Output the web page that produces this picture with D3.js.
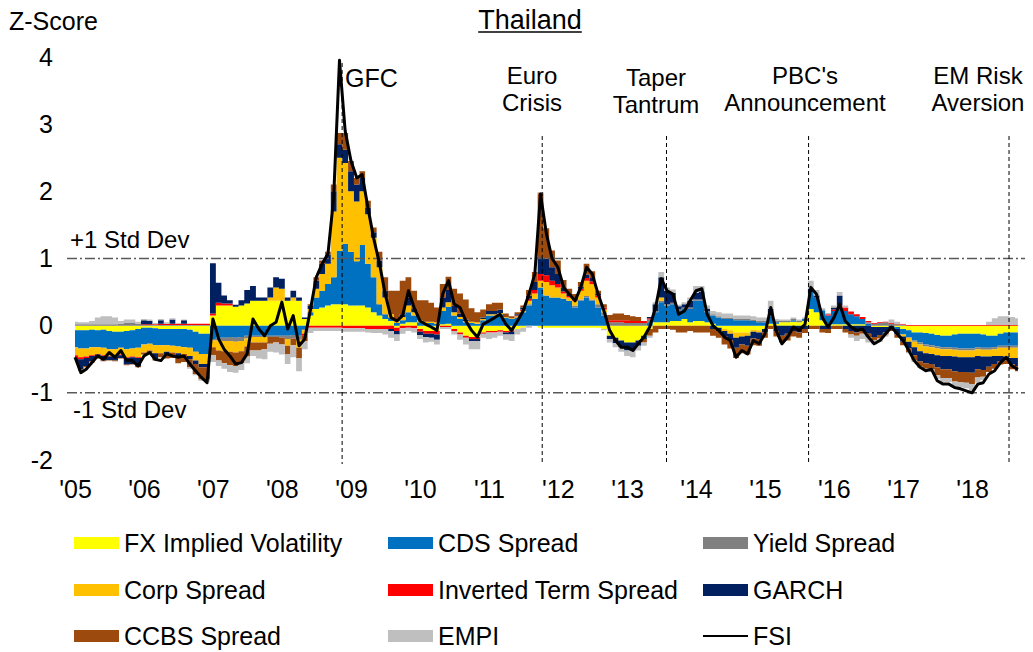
<!DOCTYPE html>
<html lang="en">
<head>
<meta charset="UTF-8">
<title>Thailand FSI</title>
<script src="https://d3js.org/d3.v7.min.js"></script>
<style>
  body { margin: 0; background: #fff; }
  svg text { font-family: "Liberation Sans", Arial, sans-serif; fill: #000; }
</style>
</head>
<body>
<svg width="1033" height="652"></svg>
<script>
// monthly data, Jan 2005 .. Sep 2018
var startYear = 2005, nMonths = 165;

var fx = [
  -.07,-.07,-.07,-.06,-.07,-.06,-.08,-.09,-.09,-.08,-.07,-.05,
  -.03,-.03,-.04,-.05,-.05,-.05,-.05,-.05,-.06,-.09,-.12,-.12,
  .15,.3,.3,.3,.28,.3,.33,.37,.37,.37,.37,.37,
  .37,.37,.37,.37,.1,.15,.25,.27,.3,.32,.32,.32,
  .3,.3,.3,.27,.2,.15,.1,.07,-.03,.03,.05,.05,
  -.05,-.08,-.08,-.08,.02,.03,-.05,-.1,-.15,-.17,-.17,-.1,
  -.08,-.08,-.07,-.08,-.07,-.05,-.03,0,0,-.03,-.03,-.03,
  -.03,-.03,-.03,-.03,-.03,-.03,-.03,-.03,-.05,-.15,-.18,-.22,
  -.25,-.25,-.22,-.15,-.05,.05,.05,.05,.07,.07,.1,.05,
  .07,.07,.05,.03,-.03,-.05,-.07,-.1,-.1,-.1,-.06,-.07,
  -.05,.03,.03,.05,.05,.06,.05,.07,.25,.2,.08,.03,
  .02,.02,.02,.02,.02,.02,0,-.02,-.02,-.02,0,-.02,
  -.05,-.07,-.1,-.1,-.11,-.12,-.14,-.15,-.15,-.13,-.12,-.12,
  -.12,-.12,-.13,-.15,-.15,-.12,-.1,-.1,-.1
];
var cds = [
  -.25,-.27,-.27,-.26,-.25,-.27,-.27,-.26,-.24,-.27,-.27,-.28,
  -.25,-.24,-.25,-.24,-.24,-.25,-.26,-.27,-.27,-.3,-.3,-.3,
  -.2,-.18,-.18,-.17,-.18,-.17,-.15,-.15,-.15,-.15,-.15,-.15,
  -.15,-.15,-.14,-.15,-.05,.05,.17,.25,.32,.4,.79,.9,
  .8,.66,.9,.65,.52,.17,.07,.05,.04,.05,.15,.1,
  .05,.04,.04,.03,.2,.25,.15,.1,.05,.04,.03,.08,
  .15,.15,.17,.12,.1,.12,.2,.3,.4,.57,.45,.42,
  .42,.4,.37,.27,.37,.42,.37,.27,.15,0,0,0,
  0,0,0,0,.05,.15,.3,.25,.25,.15,.15,.2,
  .3,.3,.15,.12,.12,.1,.1,.08,.08,.08,.07,.05,
  .05,.1,.02,0,0,.02,0,.03,.25,.22,.15,.12,
  .2,.25,.2,.15,.12,.08,.03,0,0,0,0,-.03,
  -.08,-.1,-.12,-.15,-.17,-.17,-.17,-.17,-.17,-.2,-.22,-.22,
  -.22,-.2,-.2,-.18,-.17,-.18,-.2,-.2,-.2
];
var yieldSpread = [
  .02,.02,.02,.02,.02,.02,.02,.02,.03,.04,.04,.03,
  .01,.01,.01,.01,.01,.01,.01,.01,.01,.01,.01,.01,
  -.02,-.04,-.05,-.06,-.06,-.06,-.04,-.02,-.02,-.02,-.02,-.02,
  -.03,-.05,-.05,-.06,-.02,0,0,0,0,0,0,0,
  0,0,0,0,0,0,0,0,0,0,0,0,
  0,0,0,0,0,0,0,0,0,0,0,0,
  0,0,0,0,0,0,0,.02,0,0,0,0,
  0,0,0,.03,.02,.02,.02,.05,.05,.05,.05,.05,
  .04,.04,.04,.04,.04,.02,.02,.02,.02,.02,.02,.02,
  .02,.02,.02,.02,.02,.02,.02,.02,.02,.02,.02,.02,
  .02,.02,.02,.02,.02,.02,.02,0,0,0,0,0,
  0,0,0,0,0,0,.02,.03,.04,.05,.03,.02,
  .01,-.01,-.02,-.03,-.03,-.03,-.03,-.03,-.03,-.03,-.03,-.03,
  -.03,-.03,-.03,-.03,-.03,-.03,-.03,-.03,-.03
];
var corp = [
  -.12,-.13,-.12,-.12,-.1,-.11,-.1,-.1,-.1,-.12,-.12,-.14,
  -.12,-.1,-.12,-.12,-.1,-.1,-.1,-.1,-.12,-.13,-.15,-.15,
  -.1,-.15,-.15,-.16,-.16,-.15,-.12,-.08,-.08,-.08,.05,.2,
  .18,-.1,.05,-.12,-.05,.05,.13,.25,.3,.98,1.39,1.2,
  .9,.89,.8,.74,.59,.55,.25,.05,.03,.05,.1,.05,
  .03,.02,.02,.02,.05,.07,.05,.03,.02,.02,.02,.02,
  .02,.02,.02,.01,.01,.02,.02,.05,.08,.1,.2,.18,
  .15,.08,.05,.07,.13,.23,.23,.1,.04,0,0,0,
  0,0,0,0,0,0,.05,0,0,0,0,0,
  0,0,0,0,0,-.03,-.05,-.08,-.06,-.05,-.03,-.03,
  0,0,0,0,0,0,0,0,0,0,0,0,
  0,0,0,0,0,0,0,0,0,0,0,0,
  -.03,-.06,-.08,-.1,-.1,-.1,-.1,-.1,-.1,-.1,-.1,-.1,
  -.1,-.1,-.1,-.1,-.1,-.12,-.13,-.15,-.15
];
var inverted = [
  -.04,-.03,-.02,-.01,-.01,-.01,-.01,-.01,-.01,-.01,-.01,-.01,
  .01,.01,.01,.02,.02,.02,.02,.02,.02,.02,.02,.02,
  .03,.04,.03,.03,0,0,0,0,0,0,0,0,
  0,0,0,0,-.03,-.03,-.03,-.03,-.03,-.03,-.03,-.04,
  -.04,-.04,-.04,-.05,-.05,-.05,-.05,-.05,-.05,-.04,-.03,-.04,
  -.04,-.04,-.04,-.05,-.02,-.02,-.03,-.03,-.03,-.03,-.03,-.02,
  -.02,-.02,-.02,-.02,-.02,.01,.02,.03,.05,.1,.1,.07,
  .05,.03,.02,.03,.03,.04,.04,.03,.03,.03,.03,.03,
  .04,.03,.03,.03,.02,0,0,0,0,0,0,0,
  0,0,0,0,0,0,0,0,0,0,0,0,
  0,0,0,0,0,0,0,0,0,0,0,.02,
  .02,.03,.05,.04,.03,.03,.02,.01,.01,.01,.01,.01,
  .01,.01,.01,.01,.01,.01,.01,.01,.01,.01,.01,.01,
  .01,.01,.01,.01,.01,.01,.01,.01,.01
];
var garch = [
  -.05,-.15,-.12,-.08,-.05,-.07,-.05,-.06,-.04,-.1,-.1,-.12,
  .06,.05,-.08,.05,-.05,.06,-.05,.05,-.05,-.05,-.05,-.05,
  .75,.3,.12,.05,.03,.08,.2,.22,.05,.05,.15,.15,
  .15,.05,.1,.05,.02,.05,.12,.15,.14,.3,.2,.2,
  .3,.25,.2,.1,.08,.1,.1,-.03,-.05,.04,.12,.05,
  -.05,-.05,-.06,-.08,.15,.18,.1,.05,.02,-.03,-.03,.02,
  .05,.05,.05,-.03,-.04,.02,.03,.05,.12,.25,.25,.2,
  .15,.05,.03,.02,.03,.05,.05,.02,0,-.05,-.08,-.1,
  -.12,-.12,-.08,-.05,.02,.1,.3,.2,.15,.05,.05,.1,
  .1,.12,.03,-.05,-.05,-.08,-.1,-.15,-.12,-.15,-.1,-.1,
  -.05,.1,-.08,-.15,-.12,-.08,-.1,-.05,.05,.03,-.05,-.05,
  .03,.15,-.05,-.08,-.1,-.08,-.12,-.15,-.12,-.08,-.05,-.08,
  -.08,-.1,-.12,-.15,-.15,-.15,-.18,-.2,-.2,-.22,-.22,-.22,
  -.23,-.2,-.2,-.15,-.12,-.08,-.06,-.1,-.12
];
var ccbs = [
  -.01,-.02,-.02,-.02,-.01,-.01,-.01,-.01,-.01,-.01,-.01,-.02,
  -.03,-.03,-.03,-.06,-.05,-.08,-.1,-.12,-.12,-.15,-.18,-.18,
  -.12,-.15,-.18,-.2,-.2,-.18,-.15,-.12,-.12,-.1,-.1,-.08,
  -.1,-.12,-.1,-.15,-.08,.02,.05,.05,.04,.1,.17,.25,
  .15,.1,.1,.1,.07,.13,.2,.35,.45,.5,.3,.27,
  .3,.32,.28,.22,.2,.2,.25,.3,.3,.2,.15,.12,
  .1,.12,.1,.05,.03,.03,.03,.08,.15,.95,.45,.25,
  .2,.12,.08,.05,.07,.16,.1,.05,.05,.08,.1,.1,
  .08,.07,.06,-.05,-.1,-.1,-.05,-.05,-.06,-.1,-.1,-.08,
  -.1,-.1,-.1,-.1,-.1,-.12,-.12,-.15,-.13,-.13,-.1,-.1,
  -.08,-.05,-.08,-.1,-.1,-.08,-.08,-.06,-.05,-.05,-.05,-.06,
  -.05,-.05,-.05,-.05,-.05,-.04,-.05,-.05,-.05,-.03,-.03,-.05,
  -.05,-.06,-.08,-.08,-.08,-.08,-.12,-.13,-.13,-.15,-.15,-.16,
  -.17,-.12,-.1,-.08,-.07,-.05,-.05,-.07,-.08
];
var empi = [
  .04,.03,.03,.05,.1,.12,.12,.1,.04,.05,.05,.03,
  .02,.02,.02,.02,.02,.02,.01,.01,-.02,-.02,-.02,-.03,
  -.1,-.08,-.08,-.1,-.1,-.1,-.1,-.08,-.12,-.15,-.12,-.15,
  -.15,-.15,-.18,-.2,-.12,-.08,-.05,-.05,-.05,-.05,-.05,-.05,
  -.05,-.05,-.05,-.05,-.06,-.06,-.08,-.1,-.1,-.08,-.05,-.06,
  -.06,-.08,-.06,-.07,-.03,-.03,-.05,-.08,-.1,-.12,-.12,-.06,
  -.1,-.08,-.06,-.08,-.1,-.08,-.06,-.03,0,.02,0,0,
  0,0,0,0,0,0,0,0,-.02,-.05,-.06,-.07,
  -.08,-.1,-.07,-.05,-.03,.03,.08,.05,.05,.02,.03,.05,
  .1,.08,.05,.05,.06,.06,.06,.05,.05,.05,.05,.05,
  .05,.12,.03,.02,.02,.02,.02,.02,.12,.08,.03,.02,
  .03,.05,.03,-.05,-.08,-.08,-.08,-.06,-.05,-.03,.05,.03,
  .01,-.01,-.02,-.02,-.02,-.02,-.05,-.06,-.06,-.07,-.08,-.08,
  -.1,-.08,-.05,.05,.1,.13,.13,.12,.1
];
var fsi = [
  -.47,-.7,-.65,-.55,-.45,-.5,-.4,-.47,-.37,-.52,-.52,-.6,
  -.45,-.4,-.5,-.52,-.42,-.45,-.47,-.45,-.57,-.67,-.77,-.85,
  .1,-.2,-.35,-.45,-.57,-.55,-.42,.1,-.05,-.15,0,.05,
  .35,-.05,.15,-.3,-.2,.25,.72,.92,1.07,1.9,3.95,2.9,
  2.45,2.2,2.25,1.75,1.3,.92,.47,.12,.07,.15,.52,.27,
  .07,.02,-.02,-.07,.47,.67,.32,.27,.07,-.07,-.17,.02,
  .07,.12,.17,.02,-.07,.07,.22,.47,.77,1.96,1.37,1.0,
  .87,.57,.47,.37,.57,.87,.77,.47,.22,-.07,-.22,-.32,
  -.32,-.37,-.27,-.17,-.02,.27,.7,.52,.47,.17,.22,.37,
  .52,.55,.17,0,-.07,-.17,-.22,-.47,-.37,-.42,-.22,-.27,
  -.12,.27,-.07,-.27,-.17,-.02,-.07,.02,.57,.47,.12,-.02,
  .12,.32,.07,-.02,-.07,-.05,-.17,-.27,-.22,-.12,-.02,-.12,
  -.22,-.37,-.52,-.62,-.67,-.65,-.82,-.87,-.87,-.92,-.94,-.97,
  -1.0,-.87,-.85,-.72,-.67,-.55,-.47,-.6,-.65
];

var seriesKeys = ["fx", "cds", "yieldSpread", "corp", "inverted", "garch", "ccbs", "empi"];
var seriesNames = ["FX Implied Volatility", "CDS Spread", "Yield Spread", "Corp Spread",
                   "Inverted Term Spread", "GARCH", "CCBS Spread", "EMPI"];
var seriesColors = ["#ffff00", "#0070c0", "#808080", "#ffc000", "#ff0000", "#002060", "#9c4a0e", "#bfbfbf"];

var yTicks = [-2, -1, 0, 1, 2, 3, 4];
var eventDates = ["2008-11-15", "2011-10-10", "2013-07-29", "2015-08-20", "2018-07-16"];
var eventLabels = [["GFC"], ["Euro", "Crisis"], ["Taper", "Tantrum"], ["PBC's", "Announcement"], ["EM Risk", "Aversion"]];
var bandValues = [1, -1];
var bandLabels = ["+1 Std Dev", "-1 Std Dev"];

var svg = d3.select("svg");
var x = d3.scaleTime().domain([new Date(2005, 0, 1), new Date(2018, 0, 1)]).range([75, 972]);
var y = d3.scaleLinear().domain([-2, 4]).range([460, 57]);

var cols = {fx: fx, cds: cds, yieldSpread: yieldSpread, corp: corp, inverted: inverted,
            garch: garch, ccbs: ccbs, empi: empi};
var rows = d3.range(nMonths).map(function(i) {
  var r = {date: new Date(startYear, i, 1), fsi: fsi[i]};
  seriesKeys.forEach(function(k) { r[k] = cols[k][i]; });
  return r;
});

var stack = d3.stack().keys(seriesKeys).offset(d3.stackOffsetDiverging);
var layers = stack(rows);

// step areas so that components changing sign do not leave slanted slivers
var area = d3.area()
  .curve(d3.curveStep)
  .x(function(d) { return x(d.data.date); })
  .y0(function(d) { return y(d[0]); })
  .y1(function(d) { return y(d[1]); });

svg.append("g").selectAll("path")
  .data(layers)
  .enter().append("path")
  .attr("d", area)
  .attr("fill", function(d, i) { return seriesColors[i]; });

// std dev bands
svg.append("g").selectAll("line")
  .data(bandValues)
  .enter().append("line")
  .attr("x1", 67).attr("x2", 1025)
  .attr("y1", function(d) { return y(d); })
  .attr("y2", function(d) { return y(d); })
  .attr("stroke", "#595959")
  .attr("stroke-width", 1.5)
  .attr("stroke-dasharray", "10,3,2,3");

svg.append("text").attr("x", 70).attr("y", y(1) - 11).attr("font-size", 24).text(bandLabels[0]);
svg.append("text").attr("x", 73).attr("y", y(-1) + 25).attr("font-size", 24).text(bandLabels[1]);

// event lines
var parse = d3.timeParse("%Y-%m-%d");
svg.append("g").selectAll("line")
  .data(eventDates)
  .enter().append("line")
  .attr("x1", function(d) { return x(parse(d)); })
  .attr("x2", function(d) { return x(parse(d)); })
  .attr("y1", function(d, i) { return i === 0 ? 63 : 136; })
  .attr("y2", 464)
  .attr("stroke", "#000")
  .attr("stroke-width", 1)
  .attr("stroke-dasharray", "4,3");

// FSI line
var line = d3.line()
  .x(function(d) { return x(d.date); })
  .y(function(d) { return y(d.fsi); });
svg.append("path")
  .datum(rows)
  .attr("d", line)
  .attr("fill", "none")
  .attr("stroke", "#000")
  .attr("stroke-width", 3)
  .attr("stroke-linejoin", "round");

// event labels
var labelCenters = [null, 532, 656, 805, 978];
eventLabels.forEach(function(lines, i) {
  if (i === 0) {
    svg.append("text").attr("x", 345).attr("y", 87).attr("font-size", 25).text(lines[0]);
    return;
  }
  var off = i === 2 ? 2 : 0;
  lines.forEach(function(t, j) {
    svg.append("text")
      .attr("x", labelCenters[i])
      .attr("y", 84 + off + j * 27)
      .attr("text-anchor", "middle")
      .attr("font-size", 24)
      .text(t);
  });
});

// axes
var xAxis = svg.append("g")
  .attr("transform", "translate(0,480)")
  .call(d3.axisBottom(x)
    .ticks(d3.timeYear.every(1))
    .tickSize(0)
    .tickPadding(0)
    .tickFormat(function(d) { return "'" + d3.timeFormat("%y")(d); }));
xAxis.select(".domain").remove();
xAxis.selectAll("text").attr("font-size", 25).attr("dy", "0.71em")
  .style("font-family", "'Liberation Sans', Arial, sans-serif").attr("fill", "#000");

var yAxis = svg.append("g")
  .attr("transform", "translate(53,0)")
  .call(d3.axisLeft(y).tickValues(yTicks).tickSize(0).tickPadding(0)
    .tickFormat(function(d) { return String(d); }));
yAxis.select(".domain").remove();
yAxis.selectAll("text").attr("font-size", 25)
  .style("font-family", "'Liberation Sans', Arial, sans-serif").attr("fill", "#000");

svg.append("text").attr("x", 9).attr("y", 30).attr("font-size", 25).text("Z-Score");

// title
var title = svg.append("text").attr("x", 530).attr("y", 29)
  .attr("text-anchor", "middle").attr("font-size", 27).text("Thailand");
var tw = title.node().getComputedTextLength();
svg.append("line").attr("x1", 530 - tw / 2).attr("x2", 530 + tw / 2)
  .attr("y1", 32).attr("y2", 32).attr("stroke", "#000").attr("stroke-width", 1.5);

// legend
var legendItems = seriesNames.map(function(n, i) { return {name: n, color: seriesColors[i]}; });
legendItems.push({name: "FSI", color: null});
var colX = [74, 388, 703], rowY = [543, 590, 636];
var lg = svg.append("g").selectAll("g")
  .data(legendItems)
  .enter().append("g")
  .attr("transform", function(d, i) {
    return "translate(" + colX[i % 3] + "," + rowY[Math.floor(i / 3)] + ")";
  });
lg.each(function(d) {
  var g = d3.select(this);
  if (d.color) {
    g.append("rect").attr("x", 0).attr("y", -6).attr("width", 45).attr("height", 12).attr("fill", d.color);
  } else {
    g.append("line").attr("x1", 0).attr("x2", 45).attr("y1", 0).attr("y2", 0)
      .attr("stroke", "#000").attr("stroke-width", 2);
  }
  g.append("text").attr("x", 50).attr("y", 9).attr("font-size", 25).text(d.name);
});
</script>
</body>
</html>
